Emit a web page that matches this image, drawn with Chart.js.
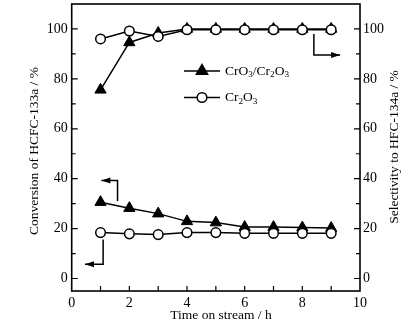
<!DOCTYPE html>
<html>
<head>
<meta charset="utf-8">
<script src="https://cdn.jsdelivr.net/npm/chart.js@4"></script>
<style>
  html, body { margin: 0; padding: 0; background: #fff; }
  #wrap { width: 420px; height: 333px; }
</style>
</head>
<body>
<div id="wrap"><canvas id="chart" width="420" height="333"></canvas></div>
<script>
// time on stream (h)
var hours = [1, 2, 3, 4, 5, 6, 7, 8, 9];
// conversion of HCFC-133a (%), left axis
var convCrO3 = [30.6, 28.2, 26.0, 22.9, 22.4, 20.6, 20.6, 20.4, 20.2];
var convCr2O3 = [18.4, 17.9, 17.6, 18.4, 18.4, 18.1, 18.1, 18.1, 18.1];
// selectivity to HFC-134a (%), right axis
var selCrO3 = [75.6, 94.6, 98.4, 100, 100, 100, 100, 100, 100];
var selCr2O3 = [96.0, 99.2, 97.0, 99.7, 99.7, 99.7, 99.7, 99.7, 99.7];

var yTicks = [0, 20, 40, 60, 80, 100];
var xTicks = [0, 2, 4, 6, 8, 10];

var FONT = "'Liberation Serif', 'Times New Roman', serif";

function pts(ys) {
	return hours.map(function(h, i) { return { x: h, y: ys[i] }; });
}

function triSet(label, ys, axis) {
	return {
		label: label, data: pts(ys), yAxisID: axis,
		borderColor: '#000', borderWidth: 1.5,
		pointStyle: 'triangle', pointRadius: 6.5,
		pointBackgroundColor: '#000', pointBorderColor: '#000', pointBorderWidth: 1
	};
}
function circSet(label, ys, axis) {
	return {
		label: label, data: pts(ys), yAxisID: axis,
		borderColor: '#000', borderWidth: 1.5,
		pointStyle: 'circle', pointRadius: 4.8,
		pointBackgroundColor: '#fff', pointBorderColor: '#000', pointBorderWidth: 1.5
	};
}

// text with subscripts: parts = [[text, isSub], ...]
function richText(ctx, parts, x, y, size) {
	ctx.textAlign = 'left';
	ctx.textBaseline = 'middle';
	parts.forEach(function(p) {
		var sz = p[1] ? size * 0.68 : size;
		ctx.font = sz + 'px ' + FONT;
		ctx.fillText(p[0], x, p[1] ? y + size * 0.3 : y);
		x += ctx.measureText(p[0]).width;
	});
}

function arrow(ctx, path) {
	// path in pixels, last point is the arrow tip
	ctx.beginPath();
	ctx.moveTo(path[0][0], path[0][1]);
	for (var i = 1; i < path.length; i++) ctx.lineTo(path[i][0], path[i][1]);
	ctx.stroke();
	var a = path[path.length - 2], b = path[path.length - 1];
	var ang = Math.atan2(b[1] - a[1], b[0] - a[0]);
	var L = 9, W = 3;
	ctx.beginPath();
	ctx.moveTo(b[0], b[1]);
	ctx.lineTo(b[0] - L * Math.cos(ang) - W * Math.sin(ang), b[1] - L * Math.sin(ang) + W * Math.cos(ang));
	ctx.lineTo(b[0] - L * Math.cos(ang) + W * Math.sin(ang), b[1] - L * Math.sin(ang) - W * Math.cos(ang));
	ctx.closePath();
	ctx.fill();
}

var decor = {
	id: 'decor',
	afterDatasetsDraw: function(chart) {
		var ctx = chart.ctx, a = chart.chartArea;
		var sx = chart.scales.x, sy = chart.scales.y;
		ctx.save();
		ctx.strokeStyle = '#000';
		ctx.fillStyle = '#000';

		// frame
		ctx.lineWidth = 1.6;
		ctx.strokeRect(a.left, a.top, a.right - a.left, a.bottom - a.top);

		// inward ticks
		ctx.lineWidth = 1.2;
		ctx.beginPath();
		for (var v = 0; v <= 100; v += 10) {
			var py = sy.getPixelForValue(v);
			var len = v % 20 === 0 ? 6 : 4;
			ctx.moveTo(a.left, py); ctx.lineTo(a.left + len, py);
			ctx.moveTo(a.right, py); ctx.lineTo(a.right - len, py);
		}
		for (var t = 1; t <= 9; t++) {
			var px = sx.getPixelForValue(t);
			ctx.moveTo(px, a.bottom); ctx.lineTo(px, a.bottom - 5);
		}
		ctx.stroke();

		// arrows pointing to the axes
		ctx.lineWidth = 1.5;
		function P(x, y) { return [sx.getPixelForValue(x), sy.getPixelForValue(y)]; }
		arrow(ctx, [P(1.59, 31.1), P(1.59, 39.3), P(1.03, 39.3)]);
		arrow(ctx, [P(1.09, 15.6), P(1.09, 5.7), P(0.46, 5.7)]);
		arrow(ctx, [P(8.4, 98), P(8.4, 89.6), P(9.31, 89.6)]);

		// legend
		var lx0 = 184, lx1 = 220, mx = 202, tx = 225;
		var rows = [71, 97.5];
		ctx.lineWidth = 1.5;
		ctx.beginPath();
		ctx.moveTo(lx0, rows[0]); ctx.lineTo(lx1, rows[0]);
		ctx.moveTo(lx0, rows[1]); ctx.lineTo(lx1, rows[1]);
		ctx.stroke();
		Chart.helpers.drawPoint(ctx, { pointStyle: 'triangle', radius: 6.5, borderWidth: 1 }, mx, rows[0]);
		ctx.fill();
		ctx.fillStyle = '#fff';
		ctx.lineWidth = 1.5;
		Chart.helpers.drawPoint(ctx, { pointStyle: 'circle', radius: 4.8, borderWidth: 1.5 }, mx, rows[1]);
		ctx.fillStyle = '#000';
		richText(ctx, [['CrO', 0], ['3', 1], ['/Cr', 0], ['2', 1], ['O', 0], ['3', 1]], tx, rows[0], 13.5);
		richText(ctx, [['Cr', 0], ['2', 1], ['O', 0], ['3', 1]], tx, rows[1], 13.5);

		// axis titles
		ctx.font = '13.5px ' + FONT;
		ctx.textAlign = 'center';
		ctx.textBaseline = 'middle';
		ctx.fillText('Time on stream / h', 221, 315);
		ctx.save();
		ctx.translate(34, 151);
		ctx.rotate(-Math.PI / 2);
		ctx.fillText('Conversion of HCFC-133a / %', 0, 0);
		ctx.restore();
		ctx.save();
		ctx.translate(394, 147);
		ctx.rotate(-Math.PI / 2);
		ctx.fillText('Selectivity to HFC-134a / %', 0, 0);
		ctx.restore();

		ctx.restore();
	}
};

function setTicks(list) {
	return function(scale) { scale.ticks = list.map(function(v) { return { value: v }; }); };
}
function fitY(w) {
	return function(s) { s.width = w; s.paddingTop = 0; s.paddingBottom = 0; };
}

new Chart(document.getElementById('chart'), {
	type: 'line',
	data: {
		datasets: [
			circSet('Cr2O3 conversion', convCr2O3, 'y'),
			triSet('CrO3/Cr2O3 conversion', convCrO3, 'y'),
			circSet('Cr2O3 selectivity', selCr2O3, 'y2'),
			triSet('CrO3/Cr2O3 selectivity', selCrO3, 'y2')
		]
	},
	options: {
		responsive: false,
		animation: false,
		layout: { autoPadding: false, padding: { top: 4, left: 0, right: 0, bottom: 0 } },
		plugins: { legend: { display: false }, tooltip: { enabled: false } },
		scales: {
			x: {
				type: 'linear', min: 0, max: 10,
				afterBuildTicks: setTicks(xTicks),
				afterFit: function(s) { s.height = 42; s.paddingLeft = 0; s.paddingRight = 0; },
				grid: { display: false, drawTicks: false },
				border: { display: false },
				ticks: { color: '#000', padding: 4, font: { family: FONT, size: 14 }, maxRotation: 0 }
			},
			y: {
				position: 'left', min: -5, max: 110,
				afterBuildTicks: setTicks(yTicks),
				afterFit: fitY(71.7),
				grid: { display: false, drawTicks: false },
				border: { display: false },
				ticks: { color: '#000', padding: 4, font: { family: FONT, size: 14 } }
			},
			y2: {
				position: 'right', min: -5, max: 110,
				afterBuildTicks: setTicks(yTicks),
				afterFit: fitY(60),
				grid: { display: false, drawTicks: false },
				border: { display: false },
				ticks: { color: '#000', padding: 3, font: { family: FONT, size: 14 } }
			}
		}
	},
	plugins: [decor]
});
</script>
</body>
</html>
